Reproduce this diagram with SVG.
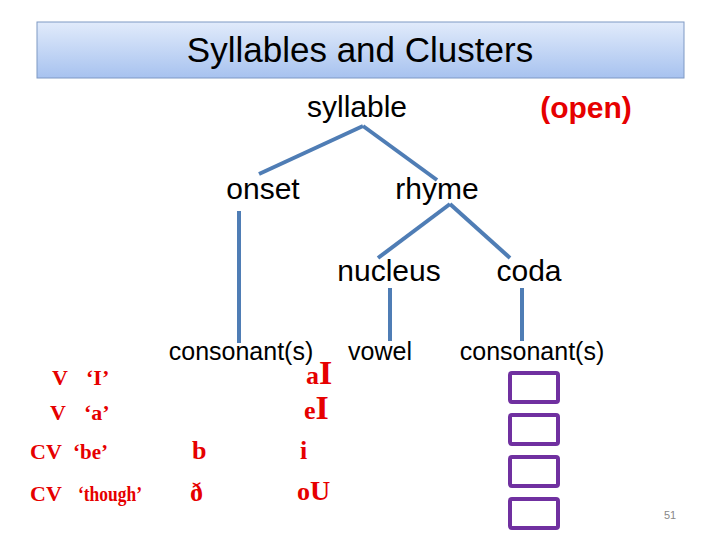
<svg xmlns="http://www.w3.org/2000/svg" width="720" height="540" viewBox="0 0 720 540">
<defs>
<linearGradient id="tg" x1="0" y1="0" x2="0" y2="1">
<stop offset="0" stop-color="#e1ebfb"/>
<stop offset="1" stop-color="#a7c2ef"/>
</linearGradient>
</defs>
<style>
.lbl{font-family:"Liberation Sans",Arial,sans-serif;fill:#000}
.tree{font-size:30px}
.bot{font-size:25px}
.red{font-family:"Liberation Serif","Times New Roman",serif;font-weight:bold;fill:#e60000;font-size:22px}
.ipa{font-size:26px}
.big{font-size:34px}
.edge{stroke:#4f7db5;stroke-width:4;fill:none;stroke-linecap:butt}
.slot{fill:none;stroke:#7030a0;stroke-width:4}
</style>
<rect width="720" height="540" fill="#fff"/>
<g id="title">
<rect x="37" y="22" width="647" height="56" fill="url(#tg)" stroke="#7f99c4" stroke-width="1"/>
<text class="lbl" x="360" y="62" font-size="35" text-anchor="middle">Syllables and Clusters</text>
</g>
<g id="connectors">
<line class="edge" x1="259" y1="174" x2="363" y2="126"/>
<line class="edge" x1="363" y1="126" x2="437" y2="180"/>
<line class="edge" x1="378" y1="258" x2="450" y2="204"/>
<line class="edge" x1="450" y1="204" x2="510" y2="258"/>
<line class="edge" x1="239" y1="211" x2="239" y2="343"/>
<line class="edge" x1="390" y1="288" x2="390" y2="341"/>
<line class="edge" x1="522" y1="288" x2="522" y2="341"/>
</g>
<g id="syllable"><text class="lbl tree" x="357" y="117" text-anchor="middle">syllable</text></g>
<g id="open"><text x="586" y="118" text-anchor="middle" font-family="Liberation Sans,Arial,sans-serif" font-weight="bold" font-size="30" fill="#e60000">(open)</text></g>
<g id="onset"><text class="lbl tree" x="263" y="199" text-anchor="middle">onset</text></g>
<g id="rhyme"><text class="lbl tree" x="437" y="199" text-anchor="middle">rhyme</text></g>
<g id="nucleus"><text class="lbl tree" x="389" y="281" text-anchor="middle">nucleus</text></g>
<g id="coda"><text class="lbl tree" x="529" y="281" text-anchor="middle">coda</text></g>
<g id="onset-consonants"><text class="lbl bot" x="241" y="360" text-anchor="middle">consonant(s)</text></g>
<g id="vowel"><text class="lbl bot" x="380" y="360" text-anchor="middle">vowel</text></g>
<g id="coda-consonants"><text class="lbl bot" x="532" y="360" text-anchor="middle">consonant(s)</text></g>
<g id="examples">
<text class="red" x="52" y="385">V</text>
<text class="red" x="86" y="385">‘I’</text>
<text class="red" x="50" y="420">V</text>
<text class="red" x="84" y="420">‘a’</text>
<text class="red" x="30" y="459">CV</text>
<text class="red" x="73" y="459" textLength="35" lengthAdjust="spacingAndGlyphs">‘be’</text>
<text class="red" x="30" y="501">CV</text>
<text class="red" x="78" y="501" textLength="64" lengthAdjust="spacingAndGlyphs">‘though’</text>
<text class="red ipa" x="192" y="459">b</text>
<text class="red ipa" x="190" y="501">ð</text>
<text class="red ipa" x="306" y="384">a<tspan class="big">I</tspan></text>
<text class="red ipa" x="304" y="419">e<tspan class="big">I</tspan></text>
<text class="red ipa" x="300" y="459">i</text>
<text class="red ipa" x="297" y="500">o<tspan style="font-size:28px">U</tspan></text>
</g>
<g id="slots">
<rect class="slot" x="510" y="373" width="48" height="29" rx="2"/>
<rect class="slot" x="510" y="415" width="48" height="29" rx="2"/>
<rect class="slot" x="510" y="457" width="48" height="29" rx="2"/>
<rect class="slot" x="510" y="499" width="48" height="29" rx="2"/>
</g>
<g id="page"><text x="664" y="519" font-family="Liberation Sans,Arial,sans-serif" font-size="11" fill="#888">51</text></g>
</svg>
